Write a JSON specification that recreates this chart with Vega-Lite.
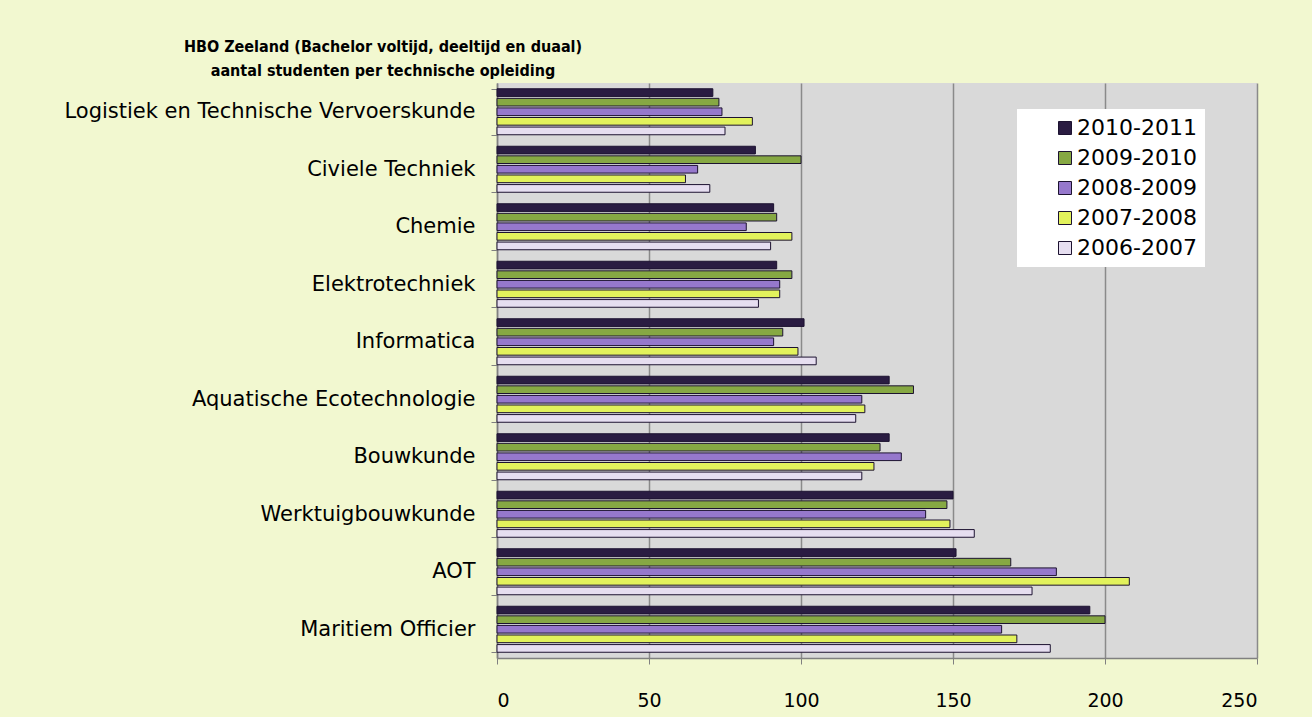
{
  "$schema": "https://vega.github.io/schema/vega-lite/v6.json",
  "width": 760,
  "height": 575,
  "autosize": {"type": "none"},
  "padding": {"left": 497, "top": 83, "right": 55, "bottom": 59},
  "background": "#f2f8d0",
  "config": {
    "font": "DejaVu Sans",
    "view": {"fill": "#d9d9d9", "stroke": null}
  },
  "title": {
    "text": ["HBO Zeeland (Bachelor voltijd, deeltijd en duaal)", "aantal studenten per technische opleiding"],
    "font": "DejaVu Sans Condensed",
    "fontSize": 16,
    "fontWeight": "bold",
    "color": "#000000",
    "anchor": "middle",
    "dx": -494,
    "lineHeight": 24,
    "offset": -7
  },
  "data": {
    "values": [
      {"opleiding": "Logistiek en Technische Vervoerskunde", "jaar": "2010-2011", "n": 71},
      {"opleiding": "Logistiek en Technische Vervoerskunde", "jaar": "2009-2010", "n": 73},
      {"opleiding": "Logistiek en Technische Vervoerskunde", "jaar": "2008-2009", "n": 74},
      {"opleiding": "Logistiek en Technische Vervoerskunde", "jaar": "2007-2008", "n": 84},
      {"opleiding": "Logistiek en Technische Vervoerskunde", "jaar": "2006-2007", "n": 75},
      {"opleiding": "Civiele Techniek", "jaar": "2010-2011", "n": 85},
      {"opleiding": "Civiele Techniek", "jaar": "2009-2010", "n": 100},
      {"opleiding": "Civiele Techniek", "jaar": "2008-2009", "n": 66},
      {"opleiding": "Civiele Techniek", "jaar": "2007-2008", "n": 62},
      {"opleiding": "Civiele Techniek", "jaar": "2006-2007", "n": 70},
      {"opleiding": "Chemie", "jaar": "2010-2011", "n": 91},
      {"opleiding": "Chemie", "jaar": "2009-2010", "n": 92},
      {"opleiding": "Chemie", "jaar": "2008-2009", "n": 82},
      {"opleiding": "Chemie", "jaar": "2007-2008", "n": 97},
      {"opleiding": "Chemie", "jaar": "2006-2007", "n": 90},
      {"opleiding": "Elektrotechniek", "jaar": "2010-2011", "n": 92},
      {"opleiding": "Elektrotechniek", "jaar": "2009-2010", "n": 97},
      {"opleiding": "Elektrotechniek", "jaar": "2008-2009", "n": 93},
      {"opleiding": "Elektrotechniek", "jaar": "2007-2008", "n": 93},
      {"opleiding": "Elektrotechniek", "jaar": "2006-2007", "n": 86},
      {"opleiding": "Informatica", "jaar": "2010-2011", "n": 101},
      {"opleiding": "Informatica", "jaar": "2009-2010", "n": 94},
      {"opleiding": "Informatica", "jaar": "2008-2009", "n": 91},
      {"opleiding": "Informatica", "jaar": "2007-2008", "n": 99},
      {"opleiding": "Informatica", "jaar": "2006-2007", "n": 105},
      {"opleiding": "Aquatische Ecotechnologie", "jaar": "2010-2011", "n": 129},
      {"opleiding": "Aquatische Ecotechnologie", "jaar": "2009-2010", "n": 137},
      {"opleiding": "Aquatische Ecotechnologie", "jaar": "2008-2009", "n": 120},
      {"opleiding": "Aquatische Ecotechnologie", "jaar": "2007-2008", "n": 121},
      {"opleiding": "Aquatische Ecotechnologie", "jaar": "2006-2007", "n": 118},
      {"opleiding": "Bouwkunde", "jaar": "2010-2011", "n": 129},
      {"opleiding": "Bouwkunde", "jaar": "2009-2010", "n": 126},
      {"opleiding": "Bouwkunde", "jaar": "2008-2009", "n": 133},
      {"opleiding": "Bouwkunde", "jaar": "2007-2008", "n": 124},
      {"opleiding": "Bouwkunde", "jaar": "2006-2007", "n": 120},
      {"opleiding": "Werktuigbouwkunde", "jaar": "2010-2011", "n": 150},
      {"opleiding": "Werktuigbouwkunde", "jaar": "2009-2010", "n": 148},
      {"opleiding": "Werktuigbouwkunde", "jaar": "2008-2009", "n": 141},
      {"opleiding": "Werktuigbouwkunde", "jaar": "2007-2008", "n": 149},
      {"opleiding": "Werktuigbouwkunde", "jaar": "2006-2007", "n": 157},
      {"opleiding": "AOT", "jaar": "2010-2011", "n": 151},
      {"opleiding": "AOT", "jaar": "2009-2010", "n": 169},
      {"opleiding": "AOT", "jaar": "2008-2009", "n": 184},
      {"opleiding": "AOT", "jaar": "2007-2008", "n": 208},
      {"opleiding": "AOT", "jaar": "2006-2007", "n": 176},
      {"opleiding": "Maritiem Officier", "jaar": "2010-2011", "n": 195},
      {"opleiding": "Maritiem Officier", "jaar": "2009-2010", "n": 200},
      {"opleiding": "Maritiem Officier", "jaar": "2008-2009", "n": 166},
      {"opleiding": "Maritiem Officier", "jaar": "2007-2008", "n": 171},
      {"opleiding": "Maritiem Officier", "jaar": "2006-2007", "n": 182}
    ]
  },
  "mark": {"type": "bar", "stroke": "#1c1230", "strokeWidth": 1},
  "encoding": {
    "y": {
      "field": "opleiding",
      "type": "nominal",
      "sort": null,
      "scale": {"paddingInner": 0.2, "paddingOuter": 0.1},
      "axis": {
        "title": null,
        "labelFontSize": 21,
        "labelColor": "#000000",
        "labelPadding": 16,
        "labelLimit": 480,
        "tickBand": "extent",
        "tickSize": 6,
        "tickColor": "#808080",
        "domainColor": "#808080",
        "domainWidth": 1.5
      }
    },
    "x": {
      "field": "n",
      "type": "quantitative",
      "scale": {"domain": [0, 250], "nice": false},
      "axis": {
        "title": null,
        "values": [0, 50, 100, 150, 200, 250],
        "labelFontSize": 19,
        "labelColor": "#000000",
        "labelPadding": 27,
        "tickSize": 6,
        "tickColor": "#808080",
        "domainColor": "#808080",
        "domainWidth": 1.5,
        "grid": true,
        "gridColor": "#8a8a8a",
        "gridWidth": 1.5
      }
    },
    "yOffset": {
      "field": "jaar",
      "type": "nominal",
      "sort": ["2010-2011", "2009-2010", "2008-2009", "2007-2008", "2006-2007"],
      "scale": {"paddingInner": 0.2}
    },
    "color": {
      "field": "jaar",
      "type": "nominal",
      "sort": ["2010-2011", "2009-2010", "2008-2009", "2007-2008", "2006-2007"],
      "scale": {
        "domain": ["2010-2011", "2009-2010", "2008-2009", "2007-2008", "2006-2007"],
        "range": ["#2a1c42", "#86a843", "#9678cc", "#e2f25c", "#e6def0"]
      },
      "legend": {
        "title": null,
        "orient": "none",
        "legendX": 520,
        "legendY": 26,
        "fillColor": "#ffffff",
        "padding": 8,
        "symbolType": "square",
        "symbolSize": 169,
        "symbolStrokeColor": "#1c1230",
        "symbolStrokeWidth": 1,
        "symbolOffset": 29,
        "labelFontSize": 22,
        "labelColor": "#000000",
        "labelOffset": 1,
        "rowPadding": 8,
        "labelLimit": 300
      }
    }
  }
}
